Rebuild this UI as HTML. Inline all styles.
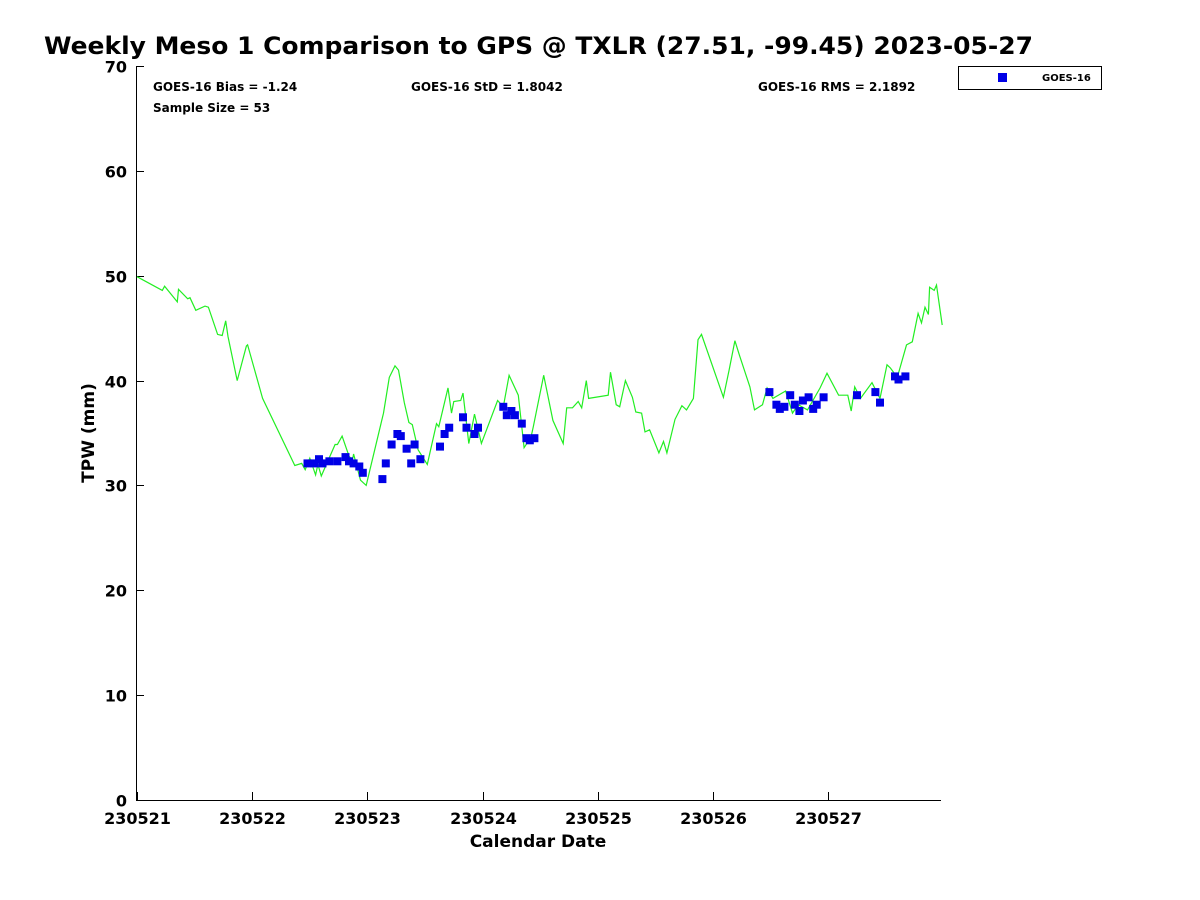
<!DOCTYPE html>
<html><head><meta charset="utf-8">
<style>
body{margin:0;background:#fff;}
svg{display:block;font-family:"DejaVu Sans","Liberation Sans",sans-serif;}
</style></head>
<body>
<svg id="chart" width="1200" height="900" viewBox="0 0 1200 900">
<rect width="1200" height="900" fill="#fff"/>
<text x="44" y="54" font-size="24" font-weight="bold" fill="#000" textLength="989" lengthAdjust="spacingAndGlyphs">Weekly Meso 1 Comparison to GPS @ TXLR (27.51, -99.45) 2023-05-27</text>
<text x="153" y="91" font-size="12" font-weight="bold">GOES-16 Bias = -1.24</text>
<text x="411" y="91" font-size="12" font-weight="bold">GOES-16 StD = 1.8042</text>
<text x="758" y="91" font-size="12" font-weight="bold">GOES-16 RMS = 2.1892</text>
<text x="153" y="112" font-size="12" font-weight="bold">Sample Size = 53</text>
<g>
<rect x="958.5" y="66.5" width="143" height="23" fill="#fff" stroke="#000" stroke-width="1"/>
<rect x="998" y="73" width="9" height="9" fill="#0000e6"/>
<text x="1042" y="81" font-size="10" font-weight="bold">GOES-16</text>
</g>
<g id="axes"></g>
<g id="series"></g>
<text x="538" y="847" font-size="17" font-weight="bold" text-anchor="middle">Calendar Date</text>
<text transform="translate(94,433) rotate(-90)" font-size="17" font-weight="bold" text-anchor="middle">TPW (mm)</text>
</svg>
<script>
const xTickLabels = ["230521","230522","230523","230524","230525","230526","230527"];
const yTickValues = [0,10,20,30,40,50,60,70];
const gpsDays = [0.00,0.22,0.24,0.35,0.36,0.44,0.46,0.51,0.59,0.62,0.70,0.74,0.77,0.79,0.87,0.95,0.96,1.09,1.37,1.43,1.46,1.50,1.55,1.57,1.60,1.72,1.74,1.78,1.84,1.87,1.88,1.94,1.99,2.14,2.19,2.24,2.27,2.32,2.36,2.39,2.44,2.52,2.60,2.62,2.70,2.73,2.75,2.81,2.83,2.88,2.93,2.99,3.13,3.18,3.23,3.31,3.36,3.42,3.44,3.53,3.61,3.70,3.73,3.78,3.83,3.86,3.90,3.92,4.09,4.11,4.16,4.19,4.24,4.30,4.33,4.38,4.41,4.45,4.53,4.57,4.60,4.67,4.73,4.77,4.83,4.87,4.90,5.09,5.14,5.19,5.23,5.32,5.36,5.43,5.47,5.52,5.63,5.69,5.74,5.82,5.93,5.99,6.09,6.17,6.20,6.23,6.28,6.38,6.45,6.51,6.54,6.60,6.68,6.73,6.78,6.81,6.84,6.87,6.88,6.92,6.94,6.99];
const gpsTpw = [49.9,48.6,49.0,47.5,48.7,47.8,47.9,46.7,47.1,47.0,44.4,44.3,45.7,44.2,40.0,43.3,43.4,38.3,31.9,32.1,31.5,32.6,31.0,32.0,30.9,33.9,33.9,34.7,32.8,32.4,33.0,30.5,30.0,36.9,40.3,41.4,41.0,37.9,36.0,35.8,33.4,32.0,35.9,35.6,39.3,36.9,38.0,38.1,38.8,34.0,36.8,34.0,38.1,37.5,40.5,38.6,33.6,34.6,35.6,40.5,36.2,34.0,37.4,37.4,38.0,37.4,40.0,38.3,38.6,40.8,37.7,37.5,40.0,38.4,37.0,36.9,35.1,35.3,33.1,34.2,33.1,36.3,37.6,37.2,38.3,43.9,44.4,38.4,41.0,43.8,42.4,39.4,37.2,37.7,39.3,38.3,39.0,36.9,37.7,37.2,39.3,40.7,38.6,38.6,37.1,39.4,38.3,39.8,38.3,41.5,41.2,40.3,43.4,43.7,46.4,45.5,47.0,46.3,48.9,48.6,49.1,45.3];
const goesDays = [1.48,1.54,1.58,1.61,1.67,1.74,1.81,1.84,1.88,1.93,1.96,2.13,2.16,2.21,2.26,2.29,2.34,2.38,2.41,2.46,2.63,2.67,2.71,2.83,2.86,2.93,2.96,3.18,3.21,3.25,3.28,3.34,3.38,3.41,3.45,5.49,5.55,5.58,5.62,5.67,5.71,5.75,5.78,5.83,5.87,5.90,5.96,6.25,6.41,6.45,6.58,6.61,6.67];
const goesTpw = [32.1,32.1,32.5,32.1,32.3,32.3,32.7,32.3,32.1,31.8,31.2,30.6,32.1,33.9,34.9,34.7,33.5,32.1,33.9,32.5,33.7,34.9,35.5,36.5,35.5,34.9,35.5,37.5,36.7,37.1,36.7,35.9,34.5,34.3,34.5,38.9,37.7,37.3,37.5,38.6,37.7,37.1,38.1,38.4,37.3,37.7,38.4,38.6,38.9,37.9,40.4,40.1,40.4];

const NS = "http://www.w3.org/2000/svg";
const X0 = 137, PX_PER_DAY = 115.2, Y0 = 800, PX_PER_MM = 10.486;
const LEFT = 136, RIGHT = 941, TOP = 66;
function xs(d){ return X0 + d * PX_PER_DAY; }
function ys(v){ return Y0 - v * PX_PER_MM; }
function mk(tag, attrs, parent){ const e = document.createElementNS(NS, tag); for (const k in attrs) e.setAttribute(k, attrs[k]); parent.appendChild(e); return e; }

const axes = document.getElementById("axes");
const yAxis = mk("line", {x1:LEFT+0.5, y1:TOP, x2:LEFT+0.5, y2:Y0+0.5, stroke:"#000", "stroke-width":1}, axes);


const xAxis = mk("line", {x1:LEFT, y1:Y0+0.5, x2:RIGHT, y2:Y0+0.5, stroke:"#000", "stroke-width":1}, axes);



yTickValues.forEach(v => {
  const y = Math.round(ys(v)) + 0.5;
  const t = mk("line", {x1:LEFT, y1:y, x2:LEFT+8, y2:y, stroke:"#000", "stroke-width":1}, axes);
  
  
  const l = mk("text", {x:LEFT-9, y:y+6, "font-size":16, "font-weight":"bold", "text-anchor":"end"}, axes);
  l.textContent = v;
  
  
});
xTickLabels.forEach((lab, i) => {
  const x = Math.round(xs(i)) + 0.5;
  const t = mk("line", {x1:x, y1:Y0, x2:x, y2:Y0-8, stroke:"#000", "stroke-width":1}, axes);
  
  
  const l = mk("text", {x:x, y:Y0+24, "font-size":16, "font-weight":"bold", "text-anchor":"middle"}, axes);
  l.textContent = lab;
  
  
});

const series = document.getElementById("series");
const pts = gpsDays.map((d, i) => xs(d).toFixed(1) + "," + ys(gpsTpw[i]).toFixed(1)).join(" ");
const line = mk("polyline", {points:pts, fill:"none", stroke:"#22ee22", "stroke-width":1.2}, series);


goesDays.forEach((d, i) => {
  const r = mk("rect", {x:(xs(d)-4).toFixed(1), y:(ys(goesTpw[i])-4).toFixed(1), width:8, height:8, fill:"#0000e6"}, series);
  
  
});
</script>
</body></html>
